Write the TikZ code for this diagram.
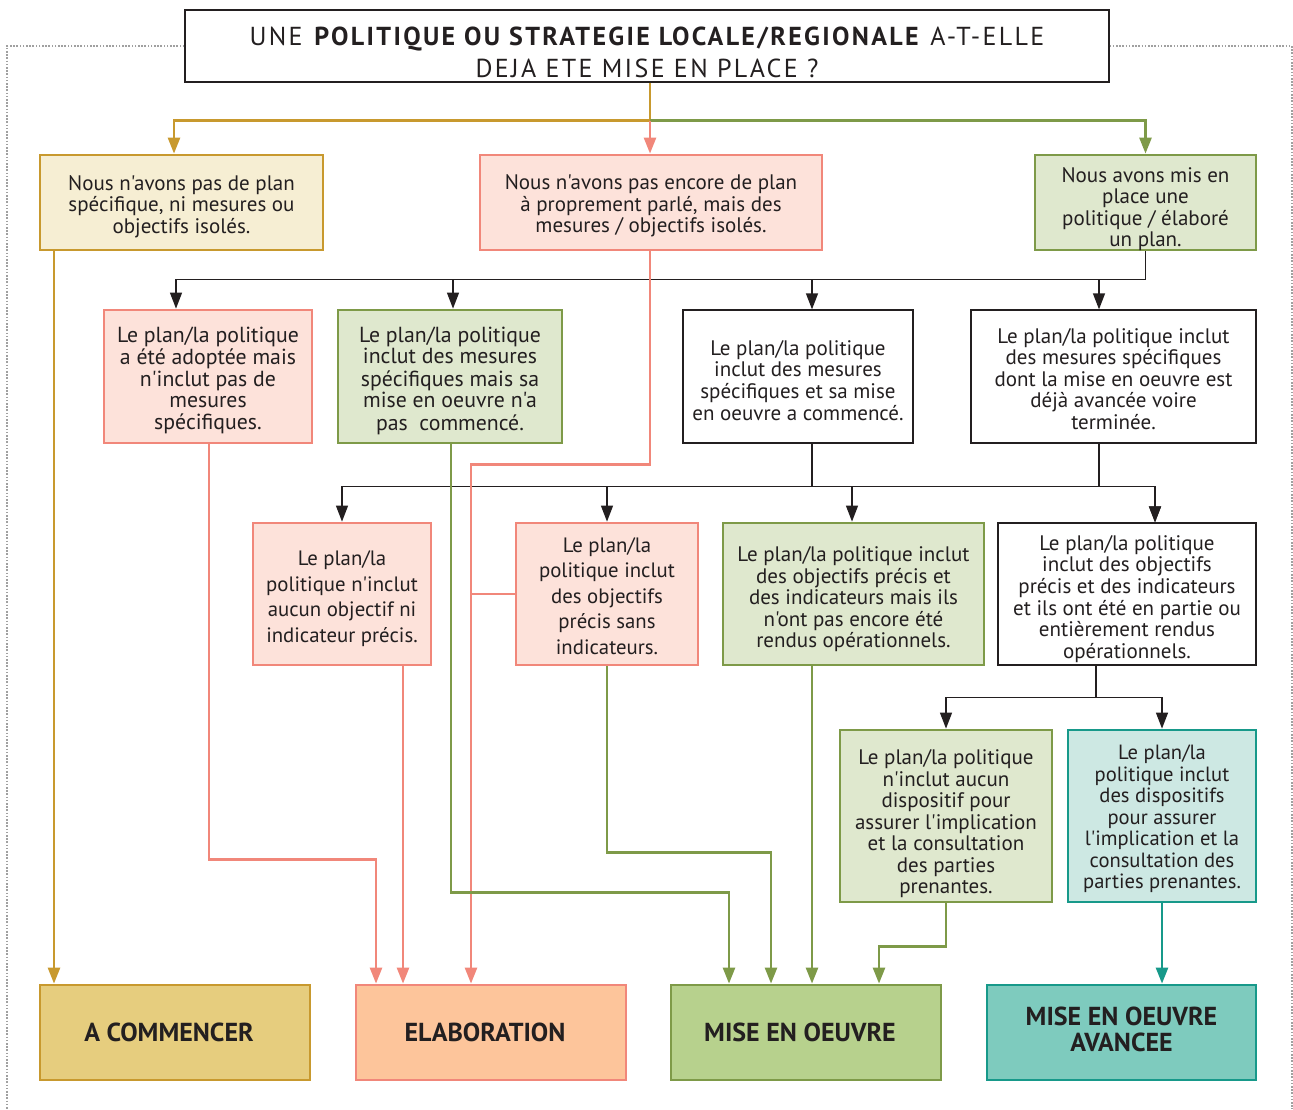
\documentclass[tikz,border=0pt]{standalone}
\usepackage{fontspec}
\usetikzlibrary{arrows.meta}
\newfontfamily\bodyf{PT Sans}
\newfontfamily\titlef[LetterSpace=9]{PT Sans}
\definecolor{goldD}{HTML}{C8992E}
\definecolor{goldL}{HTML}{F6EED3}
\definecolor{goldE}{HTML}{E6CD7E}
\definecolor{pinkD}{HTML}{F1877A}
\definecolor{pinkL}{HTML}{FDE2DA}
\definecolor{pinkE}{HTML}{FDC59B}
\definecolor{greenD}{HTML}{7E9A48}
\definecolor{greenL}{HTML}{DFE8CE}
\definecolor{greenE}{HTML}{B7D18D}
\definecolor{tealD}{HTML}{17998A}
\definecolor{tealL}{HTML}{CDE8E3}
\definecolor{tealE}{HTML}{7ECBBE}
\definecolor{txt}{HTML}{231F20}
\definecolor{frame}{HTML}{A0A0A0}
\newcommand\fs[2]{\bodyf\fontsize{#1}{#2}\selectfont}
\newcommand\tx[2][5]{\raisebox{-#1pt}[\height][\depth]{\begin{tabular}{@{}c@{}}#2\end{tabular}}}
\tikzset{
  base/.style={draw, inner sep=0pt, text=txt, font=\fs{21}{21.5}},
  plainbox/.style={base, draw=txt, line width=1.3pt, fill=white},
  goldbox/.style={base, draw=goldD, line width=2.8pt, fill=goldL},
  pinkbox/.style={base, draw=pinkD, line width=2.8pt, fill=pinkL},
  greenbox/.style={base, draw=greenD, line width=2.8pt, fill=greenL},
  tealbox/.style={base, draw=tealD, line width=2.8pt, fill=tealL},
  endbox/.style={base, line width=2.8pt, font=\fs{26}{23}\bfseries},
  tip/.style={-{Triangle[width=12pt,length=16pt]}},
  blk/.style={draw=txt, line width=1.3pt},
  blkarr/.style={blk, tip},
  goldln/.style={draw=goldD, line width=2.6pt},
  pinkln/.style={draw=pinkD, line width=2.6pt},
  greenln/.style={draw=greenD, line width=2.6pt},
  tealln/.style={draw=tealD, line width=2.6pt},
  framel/.style={draw=frame, line width=1.6pt, dash pattern=on 1.6pt off 1.6pt},
}
\begin{document}
\begin{tikzpicture}[x=1pt,y=-1pt]
\useasboundingbox (0,0) rectangle (1293,1109);
% frame
\coordinate (fl) at (7,1109);
\coordinate (fr) at (1292,1109);

% nodes
\node[plainbox, minimum width=924, minimum height=72, font=\titlef\fontsize{26}{32}\selectfont] (q) at (647,46)
 {\tx[9]{UNE \textbf{POLITIQUE OU STRATEGIE LOCALE/REGIONALE} A-T-ELLE\\ DEJA ETE MISE EN PLACE ?}};
\draw[framel] (q.west) -| (fl);
\draw[framel] (q.east) -| (fr);

\node[goldbox, minimum width=283, minimum height=95] (a1) at (181.5,202.5)
 {\tx{Nous n'avons pas de plan\\spécifique, ni mesures ou\\objectifs isolés.}};
\node[pinkbox, minimum width=342, minimum height=95] (a2) at (651,202.5)
 {\tx[4.5]{Nous n'avons pas encore de plan\\à proprement parlé, mais des\\mesures / objectifs isolés.}};
\node[greenbox, minimum width=221, minimum height=95] (a3) at (1145.5,202.5)
 {\tx[7.5]{Nous avons mis en\\place une\\politique / élaboré\\un plan.}};

\node[pinkbox, minimum width=208, minimum height=133, font=\fs{21.8}{21.5}] (b1) at (208,376.5)
 {\tx{Le plan/la politique\\a été adoptée mais\\n'inclut pas de\\mesures\\spécifiques.}};
\node[greenbox, minimum width=224, minimum height=133, font=\fs{21.8}{21.5}] (b2) at (450,376.5)
 {\tx{Le plan/la politique\\inclut des mesures\\spécifiques mais sa\\mise en oeuvre n'a\\pas~ commencé.}};
\node[plainbox, minimum width=230, minimum height=133] (b3) at (798,376.5)
 {\tx[7]{Le plan/la politique\\inclut des mesures\\spécifiques et sa mise\\en oeuvre a commencé.}};
\node[plainbox, minimum width=285, minimum height=133] (b4) at (1113.5,376.5)
 {\tx[5.3]{Le plan/la politique inclut\\des mesures spécifiques\\dont la mise en oeuvre est\\déjà avancée voire\\terminée.}};

\node[pinkbox, minimum width=178, minimum height=142, font=\fs{20.8}{25.5}] (c1) at (342,594)
 {\tx{Le plan/la\\politique n'inclut\\aucun objectif ni\\indicateur précis.}};
\node[pinkbox, minimum width=182, minimum height=142, font=\fs{20.8}{25.5}] (c2) at (607,594)
 {\tx[4]{Le plan/la\\politique inclut\\des objectifs\\précis sans\\indicateurs.}};
\node[greenbox, minimum width=261, minimum height=142] (c3) at (853.5,594)
 {\tx[6.5]{Le plan/la politique inclut\\des objectifs précis et\\des indicateurs mais ils\\n'ont pas encore été\\rendus opérationnels.}};
\node[plainbox, minimum width=258, minimum height=142] (c4) at (1127,594)
 {\tx[6]{Le plan/la politique\\inclut des objectifs\\précis et des indicateurs\\et ils ont été en partie ou\\entièrement rendus\\opérationnels.}};

\node[greenbox, minimum width=212, minimum height=172] (d1) at (946,816)
 {\tx[9]{Le plan/la politique\\n'inclut aucun\\dispositif pour\\assurer l'implication\\et la consultation\\des parties\\prenantes.}};
\node[tealbox, minimum width=188, minimum height=172, font=\fs{20.6}{21.5}] (d2) at (1162,816)
 {\tx[4]{Le plan/la\\politique inclut\\des dispositifs\\pour assurer\\l'implication et la\\consultation des\\parties prenantes.}};

\node[endbox, draw=goldD, fill=goldE, minimum width=270, minimum height=95] (e1) at (175,1032.5) {A COMMENCER\hspace*{12pt}};
\node[endbox, draw=pinkD, fill=pinkE, minimum width=270, minimum height=95] (e2) at (491,1032.5) {ELABORATION\hspace*{12pt}};
\node[endbox, draw=greenD, fill=greenE, minimum width=270, minimum height=95] (e3) at (806,1032.5) {MISE EN OEUVRE\hspace*{12pt}};
\node[endbox, draw=tealD, fill=tealE, minimum width=269, minimum height=95] (e4) at (1121.5,1032.5) {\tx[0]{MISE EN OEUVRE\\AVANCEE}};

% top connectors
\draw[goldln, tip] ([xshift=3]q.south) -- ++(0,38) -| ([xshift=-7.5]a1.north);
\draw[greenln, tip] ([xshift=3]q.south) ++(0,38) -| (a3.north);
\draw[pinkln, tip] ([xshift=3]q.south) ++(0,38) -- ([xshift=-1]a2.north);

% black connectors row A -> B
\draw[blkarr] (a3.south) -- ++(0,28) -| ([xshift=-32]b1.north);
\draw[blkarr] (a3.south) -- ++(0,28) -| ([xshift=3]b2.north);
\draw[blkarr] (a3.south) -- ++(0,28) -| ([xshift=14]b3.north);
\draw[blkarr] (a3.south) -- ++(0,28) -| ([xshift=-14.5]b4.north);

% B -> C
\draw[blkarr] ([xshift=14]b3.south) -- ++(0,43) -| (c1.north);
\draw[blkarr] ([xshift=14]b3.south) -- ++(0,43) -| (c2.north);
\draw[blkarr] ([xshift=14]b3.south) -- ++(0,43) -| ([xshift=-1.5]c3.north);
\draw[blkarr] ([xshift=14]b3.south) -- ++(0,43) -| ([xshift=28]c4.north);
\draw[blkarr] ([xshift=-14.5]b4.south) -- ++(0,43) -| ([xshift=28]c4.north);

% C -> D
\draw[blkarr] ([xshift=-31]c4.south) -- ++(0,32) -| (d1.north);
\draw[blkarr] ([xshift=-31]c4.south) -- ++(0,32) -| (d2.north);

% to outcomes
\draw[goldln, tip] ([xshift=-127.5]a1.south) -- ([xshift=-121]e1.north);

\draw[pinkln, tip] ([xshift=1]b1.south) -- ++(0,415) -| ([xshift=-115]e2.north);
\draw[pinkln, tip] ([xshift=61]c1.south) -- ([xshift=-88]e2.north);
\draw[pinkln, tip] ([xshift=-1]a2.south) -- ++(0,213) -| ([xshift=-20]e2.north);
\draw[pinkln] (c2.west) -- ++(-45,0);

\draw[greenln, tip] ([xshift=1]b2.south) -- ++(0,448) -| ([xshift=-77]e3.north);
\draw[greenln, tip] (c2.south) -- ++(0,186) -| ([xshift=-35]e3.north);
\draw[greenln, tip] ([xshift=-41.5]c3.south) -- ([xshift=6]e3.north);
\draw[greenln, tip] (d1.south) -- ++(0,43) -| ([xshift=73]e3.north);

\draw[tealln, tip] (d2.south) -- ([xshift=40.5]e4.north);
\end{tikzpicture}
\end{document}
